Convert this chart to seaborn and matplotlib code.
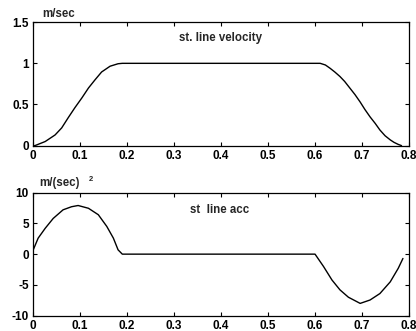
import matplotlib
matplotlib.use("Agg")
import matplotlib.pyplot as plt
import seaborn as sns
import pandas as pd

# Velocity profile (m/sec)
vel_t = [0.0, 0.004, 0.026, 0.047, 0.061, 0.075, 0.089, 0.104, 0.118, 0.132, 0.146, 0.164, 0.181, 0.19,
         0.30, 0.40, 0.50, 0.611, 0.622, 0.632, 0.642, 0.653, 0.663, 0.674, 0.685, 0.696, 0.706,
         0.717, 0.728, 0.738, 0.749, 0.760, 0.768, 0.777, 0.784]
vel_v = [0.0, 0.0, 0.05, 0.13, 0.215, 0.34, 0.46, 0.58, 0.70, 0.80, 0.895, 0.965, 0.995, 1.0,
         1.0, 1.0, 1.0, 1.0, 0.98, 0.94, 0.895, 0.84, 0.78, 0.70, 0.62, 0.53, 0.44,
         0.35, 0.27, 0.19, 0.12, 0.07, 0.04, 0.015, 0.0]

# Acceleration profile (m/sec^2)
acc_t = [0.0, 0.011, 0.026, 0.043, 0.064, 0.082, 0.096, 0.118, 0.139, 0.157, 0.171, 0.181, 0.190,
         0.30, 0.40, 0.50, 0.600, 0.618, 0.636, 0.653, 0.671, 0.696, 0.717, 0.738, 0.760, 0.777, 0.787]
acc_a = [0.6, 2.6, 4.2, 5.8, 7.2, 7.7, 7.9, 7.45, 6.4, 4.5, 2.6, 0.7, 0.0,
         0.0, 0.0, 0.0, 0.0, -2.0, -4.2, -5.8, -7.0, -8.0, -7.45, -6.4, -4.5, -2.3, -0.7]

x_ticks = [0, 0.1, 0.2, 0.3, 0.4, 0.5, 0.6, 0.7, 0.8]
x_labels = ["0", "0.1", "0.2", "0.3", "0.4", "0.5", "0.6", "0.7", "0.8"]
v_ticks = [0, 0.5, 1, 1.5]
v_labels = ["0", "0.5", "1", "1.5"]
a_ticks = [-10, -5, 0, 5, 10]
a_labels = ["-10", "-5", "0", "5", "10"]

sns.set_style("ticks")
plt.rcParams['font.family'] = ['Liberation Sans', 'DejaVu Sans']
plt.rcParams['font.weight'] = 'bold'

fig = plt.figure(figsize=(4.16, 3.31), dpi=100)
ax1 = fig.add_axes([0.0793, 0.560, 0.904, 0.373])
ax2 = fig.add_axes([0.0793, 0.0462, 0.904, 0.372])

vdf = pd.DataFrame({"t": vel_t, "v": vel_v})
adf = pd.DataFrame({"t": acc_t, "a": acc_a})

sns.lineplot(data=vdf, x="t", y="v", ax=ax1, color="black", linewidth=1.0, sort=False)
sns.lineplot(data=adf, x="t", y="a", ax=ax2, color="black", linewidth=1.0, sort=False)

for ax, yt, yl, ylim in [(ax1, v_ticks, v_labels, (0, 1.5)), (ax2, a_ticks, a_labels, (-10, 10))]:
    ax.set_xlim(0, 0.8)
    ax.set_ylim(*ylim)
    ax.set_xticks(x_ticks)
    ax.set_xticklabels(x_labels)
    ax.set_yticks(yt)
    ax.set_yticklabels(yl)
    ax.set_xlabel("")
    ax.set_ylabel("")
    ax.tick_params(direction="in", length=3, width=0.8, top=True, right=True,
                   labelsize=8.5, pad=3, colors="black")
    for s in ax.spines.values():
        s.set_visible(True)
        s.set_linewidth(0.9)
        s.set_color("black")

ax1.text(0.398, 1.31, "st. line velocity", ha="center", va="center", fontsize=8.3, fontweight="bold")
ax2.text(0.398, 7.2, "st  line acc", ha="center", va="center", fontsize=8.3, fontweight="bold")

fig.text(59 / 416, 1 - 14 / 331, "m/sec", ha="center", va="center", fontsize=8.3, fontweight="bold")
fig.text(60 / 416, 1 - 183 / 331, "m/(sec)", ha="center", va="center", fontsize=8.3, fontweight="bold")
fig.text(91 / 416, 1 - 179 / 331, "2", ha="center", va="center", fontsize=5.5, fontweight="bold")

fig.savefig("out.png", dpi=100)
